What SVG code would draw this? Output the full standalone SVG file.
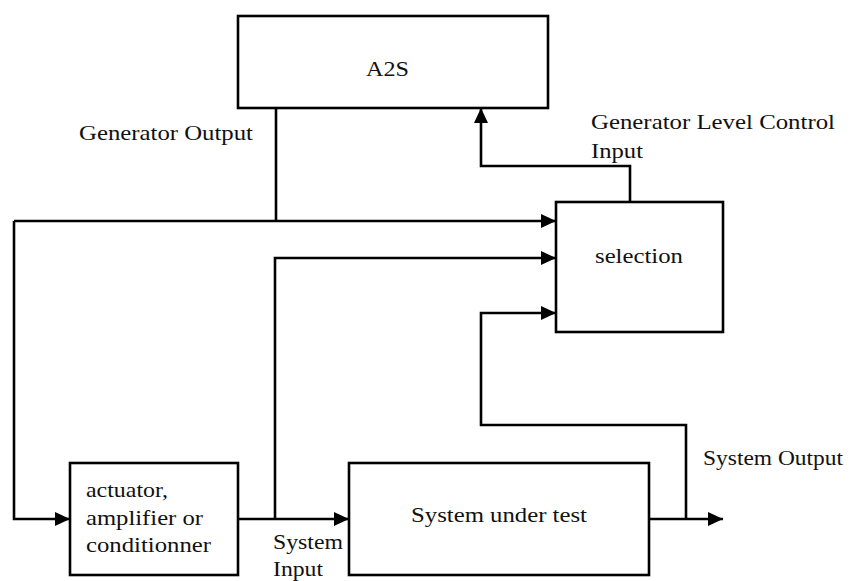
<svg xmlns="http://www.w3.org/2000/svg" width="853" height="581" viewBox="0 0 853 581">
<style>
.box{fill:#fff;stroke:#000;stroke-width:2.6}
.ln{fill:none;stroke:#000;stroke-width:2.6;stroke-linejoin:miter}
.ar{marker-end:url(#ah)}
.t{font-family:"Liberation Serif","Times New Roman",serif;font-size:22px;fill:#111}
</style>
<defs>
<marker id="ah" markerUnits="userSpaceOnUse" markerWidth="16" markerHeight="15" refX="15" refY="7" orient="auto" viewBox="0 0 16 15">
<path d="M0,0 L15,7 L0,14 z" fill="#000"/>
</marker>
</defs>
<rect width="853" height="581" fill="#fff"/>
<g id="connectors">
<path class="ln ar" d="M276,108 V221 M14,221 H556"/>
<path class="ln ar" d="M14,221 V519 H70"/>
<path class="ln ar" d="M630,202 V166 H481 V108"/>
<path class="ln ar" d="M238,519 H349"/>
<path class="ln ar" d="M275,519 V258 H556"/>
<path class="ln ar" d="M649,519 H723"/>
<path class="ln ar" d="M686,519 V425 H481 V313 H556"/>
</g>
<g id="a2s">
<rect class="box" x="238" y="16" width="310" height="92"/>
<text class="t" x="366" y="76" textLength="43" lengthAdjust="spacingAndGlyphs">A2S</text>
</g>
<g id="selection">
<rect class="box" x="556" y="202" width="167" height="130"/>
<text class="t" x="595" y="263" textLength="88" lengthAdjust="spacingAndGlyphs">selection</text>
</g>
<g id="actuator">
<rect class="box" x="70" y="463" width="168" height="112"/>
<text class="t" x="86" y="497" textLength="82" lengthAdjust="spacingAndGlyphs">actuator,</text>
<text class="t" x="86" y="525" textLength="117" lengthAdjust="spacingAndGlyphs">amplifier or</text>
<text class="t" x="86" y="552" textLength="125" lengthAdjust="spacingAndGlyphs">conditionner</text>
</g>
<g id="sut">
<rect class="box" x="349" y="463" width="300" height="112"/>
<text class="t" x="411" y="522" textLength="176" lengthAdjust="spacingAndGlyphs">System under test</text>
</g>
<g id="labels">
<text class="t" x="79" y="140" textLength="174" lengthAdjust="spacingAndGlyphs">Generator Output</text>
<text class="t" x="591" y="129" textLength="244" lengthAdjust="spacingAndGlyphs">Generator Level Control</text>
<text class="t" x="591" y="158" textLength="52" lengthAdjust="spacingAndGlyphs">Input</text>
<text class="t" x="273" y="549" textLength="70" lengthAdjust="spacingAndGlyphs">System</text>
<text class="t" x="273" y="576" textLength="50" lengthAdjust="spacingAndGlyphs">Input</text>
<text class="t" x="703" y="465" textLength="140" lengthAdjust="spacingAndGlyphs">System Output</text>
</g>
</svg>
